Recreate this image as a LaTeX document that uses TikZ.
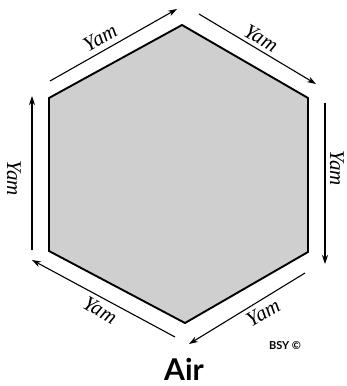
\documentclass[tikz,border=0pt]{standalone}
\usepackage{fontspec}
\setmainfont{Liberation Serif}
\newfontfamily\airfont{Lato}
\usetikzlibrary{arrows.meta}
\definecolor{hexfill}{RGB}{207,207,207}
\tikzset{
  hexedge/.style={draw=black, line width=1.9pt, line join=miter, fill=hexfill},
  flow/.style={draw=black, line width=1.1pt, -{Stealth[length=9pt,width=6pt]}},
  yam/.style={font=\fontsize{21}{21}\selectfont\itshape, inner sep=0pt}
}
\begin{document}
\begin{tikzpicture}[x=1pt,y=-1pt]
\useasboundingbox (0,0) rectangle (347,386);
% hexagon vertices
\coordinate (T) at (182,25);
\coordinate (UR) at (308,98);
\coordinate (LR) at (308,252);
\coordinate (B) at (185,323);
\coordinate (LL) at (49,251);
\coordinate (UL) at (49,98);
\draw[hexedge] (T) -- (UR) -- (LR) -- (B) -- (LL) -- (UL) -- cycle;
% arrow end points
\coordinate (a1s) at (50,81);  \coordinate (a1e) at (177,9);
\coordinate (a2s) at (199,14); \coordinate (a2e) at (316,84);
\coordinate (a3s) at (325,103);\coordinate (a3e) at (325,264);
\coordinate (a4s) at (305,273);\coordinate (a4e) at (189,344);
\coordinate (a5s) at (175,337);\coordinate (a5e) at (32,260);
\coordinate (a6s) at (32,250); \coordinate (a6e) at (32,96);
\draw[flow] (a1s) -- (a1e);
\draw[flow] (a2s) -- (a2e);
\draw[flow] (a3s) -- (a3e);
\draw[flow] (a4s) -- (a4e);
\draw[flow] (a5s) -- (a5e);
\draw[flow] (a6s) -- (a6e);
% labels
\node[yam, rotate=30]  (l1) at (100,38) {Yam};
\node[yam, rotate=-30] (l2) at (261,38) {Yam};
\node[yam, rotate=-90] (l3) at (337,168) {Yam};
\node[yam, rotate=-90] (l6) at (14,178) {Yam};
\node[yam, rotate=-30] (l5) at (100,310) {Yam};
\node[yam, rotate=30]  (l4) at (263,313) {Yam};
\node[font=\airfont\bfseries\fontsize{30}{30}\selectfont, inner sep=0pt] (air) at (184,369) {Air};
\node[font=\airfont\bfseries\fontsize{11}{11}\selectfont, inner sep=0pt] (bsy) at (285,346) {BSY ©};
\end{tikzpicture}
\end{document}
